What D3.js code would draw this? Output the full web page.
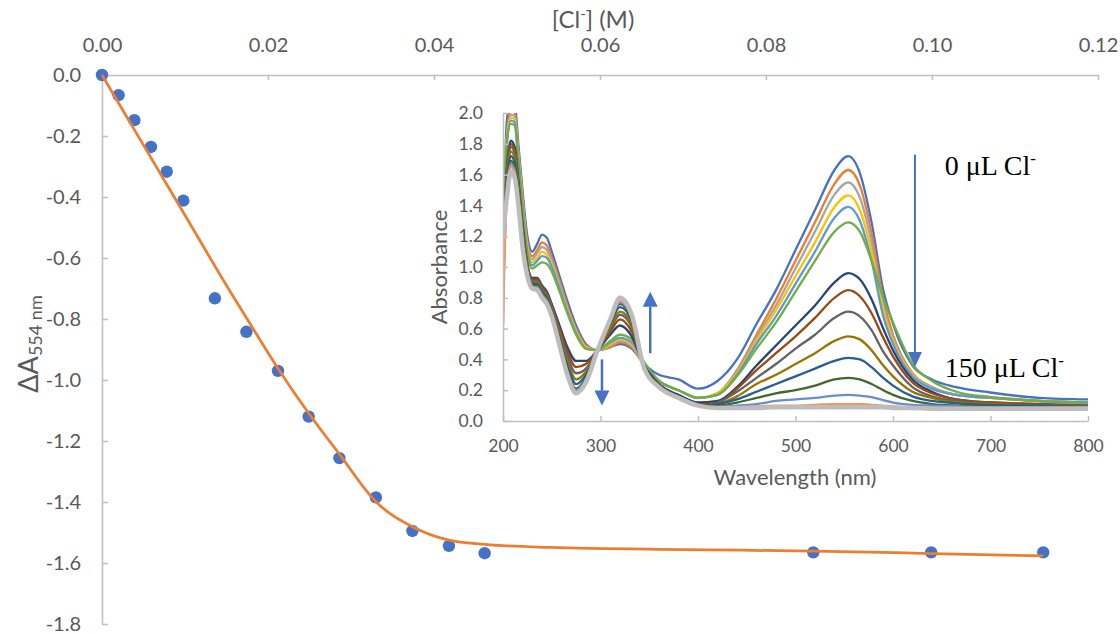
<!DOCTYPE html>
<html><head><meta charset="utf-8">
<script src="https://cdn.jsdelivr.net/npm/d3@7"></script>
<style>
body{margin:0;background:#fff}
svg{display:block}
</style>
</head><body>
<svg id="c" width="1120" height="634"></svg>
<script>
// ---------- main titration data ----------
const concTicks = [0, 0.02, 0.04, 0.06, 0.08, 0.10, 0.12];
const dATicks = [0, -0.2, -0.4, -0.6, -0.8, -1.0, -1.2, -1.4, -1.6, -1.8];
const conc = [0, 0.0020, 0.0039, 0.0059, 0.0078, 0.0098, 0.0136, 0.0174, 0.0212, 0.0249, 0.0286, 0.0330, 0.0374, 0.0418, 0.0461, 0.0857, 0.0999, 0.1134];
const dA554 = [0, -0.066, -0.148, -0.236, -0.317, -0.412, -0.732, -0.842, -0.970, -1.120, -1.256, -1.385, -1.495, -1.544, -1.568, -1.565, -1.565, -1.565];
const fitConc = [0, 0.005, 0.010, 0.015, 0.0178, 0.0212, 0.0249, 0.0286, 0.0330, 0.0374, 0.0418, 0.0461, 0.054, 0.070, 0.0857, 0.100, 0.1134];
const fitVal = [0, -0.23, -0.46, -0.69, -0.814, -0.962, -1.109, -1.243, -1.399, -1.481, -1.525, -1.539, -1.549, -1.556, -1.561, -1.569, -1.577];

// ---------- inset spectra ----------
const wlTicks = [200, 300, 400, 500, 600, 700, 800];
const absTicks = [0, 0.2, 0.4, 0.6, 0.8, 1.0, 1.2, 1.4, 1.6, 1.8, 2.0];
const wavelength = [200,204,208,212,216,220,225,230,235,240,245,250,258,266,275,285,297,310,320,332,345,360,380,400,420,440,460,480,500,520,540,554,566,578,590,600,620,640,665,700,750,800];
const spec01 = [1.20,1.95,2.08,2.06,1.78,1.50,1.20,1.10,1.15,1.21,1.19,1.10,0.94,0.78,0.62,0.50,0.46,0.48,0.50,0.47,0.37,0.30,0.27,0.21,0.26,0.40,0.63,0.85,1.11,1.37,1.63,1.72,1.61,1.29,0.85,0.63,0.36,0.27,0.22,0.185,0.15,0.14];
const spec02 = [0.62,1.85,2.02,2.00,1.74,1.46,1.16,1.07,1.11,1.16,1.14,1.06,0.91,0.75,0.60,0.49,0.46,0.48,0.51,0.48,0.36,0.26,0.20,0.15,0.18,0.33,0.56,0.79,1.04,1.29,1.54,1.63,1.53,1.22,0.79,0.56,0.31,0.22,0.17,0.155,0.13,0.12];
const spec03 = [1.00,1.80,1.99,1.98,1.72,1.44,1.14,1.05,1.09,1.13,1.11,1.04,0.89,0.73,0.59,0.48,0.46,0.49,0.52,0.49,0.36,0.26,0.20,0.15,0.18,0.32,0.54,0.75,0.99,1.23,1.47,1.55,1.45,1.16,0.75,0.54,0.30,0.22,0.17,0.15,0.13,0.12];
const spec04 = [1.45,1.85,1.97,1.96,1.70,1.42,1.12,1.03,1.06,1.10,1.08,1.02,0.87,0.72,0.58,0.48,0.46,0.50,0.53,0.50,0.37,0.26,0.20,0.15,0.18,0.31,0.52,0.72,0.94,1.16,1.39,1.465,1.37,1.10,0.72,0.52,0.30,0.21,0.17,0.15,0.13,0.12];
const spec05 = [1.30,1.80,1.95,1.94,1.68,1.40,1.10,1.01,1.04,1.07,1.06,1.00,0.86,0.71,0.57,0.47,0.46,0.51,0.54,0.51,0.37,0.26,0.20,0.15,0.17,0.30,0.50,0.68,0.89,1.10,1.32,1.39,1.30,1.04,0.68,0.50,0.29,0.21,0.17,0.15,0.13,0.12];
const spec06 = [1.40,1.82,1.93,1.92,1.66,1.38,1.08,0.99,1.01,1.03,1.02,0.97,0.84,0.70,0.56,0.47,0.46,0.52,0.56,0.53,0.38,0.26,0.20,0.15,0.17,0.29,0.47,0.64,0.84,1.04,1.23,1.29,1.23,1.04,0.80,0.64,0.37,0.26,0.19,0.155,0.13,0.12];
const spec07 = [1.10,1.65,1.82,1.78,1.55,1.28,1.02,0.93,0.93,0.88,0.84,0.76,0.62,0.48,0.39,0.39,0.46,0.56,0.62,0.55,0.36,0.24,0.17,0.12,0.13,0.22,0.36,0.49,0.62,0.75,0.90,0.96,0.92,0.79,0.60,0.46,0.27,0.19,0.14,0.12,0.11,0.10];
const spec08 = [1.05,1.62,1.80,1.76,1.53,1.26,1.01,0.92,0.92,0.87,0.83,0.75,0.60,0.45,0.35,0.37,0.46,0.58,0.66,0.58,0.35,0.23,0.16,0.11,0.12,0.21,0.33,0.44,0.55,0.67,0.80,0.85,0.81,0.70,0.54,0.42,0.25,0.18,0.14,0.12,0.11,0.10];
const spec09 = [1.00,1.60,1.78,1.74,1.51,1.24,1.00,0.91,0.91,0.86,0.82,0.74,0.58,0.42,0.31,0.34,0.46,0.60,0.69,0.61,0.34,0.22,0.15,0.10,0.12,0.19,0.28,0.37,0.47,0.56,0.67,0.71,0.68,0.59,0.45,0.36,0.22,0.16,0.13,0.11,0.10,0.10];
const spec10 = [0.95,1.58,1.75,1.71,1.49,1.22,0.99,0.90,0.90,0.85,0.81,0.73,0.56,0.39,0.27,0.32,0.46,0.61,0.71,0.63,0.34,0.22,0.15,0.10,0.11,0.16,0.24,0.30,0.37,0.44,0.52,0.55,0.53,0.46,0.36,0.29,0.19,0.15,0.12,0.11,0.10,0.09];
const spec11 = [0.90,1.55,1.72,1.68,1.47,1.20,0.98,0.89,0.89,0.84,0.80,0.72,0.54,0.36,0.24,0.30,0.46,0.63,0.74,0.65,0.34,0.22,0.15,0.10,0.11,0.14,0.19,0.24,0.29,0.34,0.39,0.41,0.40,0.35,0.28,0.23,0.16,0.13,0.115,0.105,0.10,0.09];
const spec12 = [0.85,1.52,1.69,1.65,1.45,1.18,0.97,0.88,0.88,0.83,0.79,0.71,0.52,0.33,0.21,0.28,0.46,0.64,0.76,0.66,0.34,0.22,0.15,0.10,0.10,0.12,0.15,0.18,0.20,0.23,0.27,0.28,0.27,0.24,0.20,0.17,0.13,0.11,0.10,0.095,0.09,0.09];
const spec13 = [0.80,1.50,1.67,1.63,1.43,1.16,0.96,0.87,0.87,0.82,0.78,0.70,0.51,0.32,0.20,0.27,0.46,0.65,0.77,0.67,0.34,0.22,0.15,0.10,0.09,0.10,0.11,0.13,0.14,0.15,0.165,0.17,0.165,0.155,0.135,0.12,0.105,0.10,0.095,0.09,0.09,0.09];
const spec14 = [0.62,1.48,1.65,1.61,1.41,1.15,0.95,0.87,0.86,0.81,0.77,0.69,0.50,0.31,0.19,0.26,0.46,0.65,0.78,0.68,0.34,0.22,0.15,0.10,0.085,0.09,0.095,0.10,0.10,0.105,0.11,0.11,0.11,0.105,0.10,0.095,0.09,0.085,0.085,0.085,0.085,0.085];
const spec15 = [1.20,1.45,1.62,1.58,1.39,1.13,0.94,0.86,0.85,0.80,0.76,0.68,0.49,0.30,0.18,0.25,0.46,0.66,0.80,0.69,0.34,0.22,0.15,0.10,0.085,0.085,0.085,0.09,0.09,0.09,0.09,0.09,0.09,0.09,0.09,0.085,0.085,0.08,0.08,0.08,0.08,0.08];
const spectra = [spec01,spec02,spec03,spec04,spec05,spec06,spec07,spec08,spec09,spec10,spec11,spec12,spec13,spec14,spec15];
const specColors = ["#4472C4","#ED7D31","#A5A5A5","#FFC000","#5B9BD5","#70AD47","#264478","#9E480E","#636363","#997300","#255E91","#43682B","#698ED0","#F1975A","#BDBDBD"];

// annotations (in inset data units)
const arrowWl = [301.5, 351, 622.5];
const arrowFrom = [0.40, 0.44, 1.73];
const arrowTo = [0.10, 0.84, 0.35];
const noteWl = [653, 653];
const noteAbs = [1.60, 0.285];
const noteText = ["0 \u03BCL Cl", "150 \u03BCL Cl"];

const svg = d3.select("#c");
const labelFont = "Lato, 'Open Sans', sans-serif";
const axisCol = "#BFBFBF", textCol = "#595959";

function styleAxis(g, fs){
  g.attr("font-family", labelFont).attr("font-size", fs);
  g.select(".domain").attr("stroke", axisCol).attr("stroke-width", 1.5);
  g.selectAll(".tick line").attr("stroke", axisCol).attr("stroke-width", 1.5);
  g.selectAll(".tick text").attr("fill", textCol);
}

// ---------- main chart ----------
const x = d3.scaleLinear().domain([0, 0.12]).range([102, 1098]);
const y = d3.scaleLinear().domain([0, -1.8]).range([75, 624]);

const gx = svg.append("g").attr("transform", "translate(0,75)")
  .call(d3.axisTop(x).tickValues(concTicks).tickFormat(d => d.toFixed(2)).tickSizeInner(-5).tickSizeOuter(0).tickPadding(23));
styleAxis(gx, 20);
const gy = svg.append("g").attr("transform", "translate(102,0)")
  .call(d3.axisLeft(y).tickValues(dATicks).tickFormat(d => d.toFixed(1)).tickSizeInner(-6).tickSizeOuter(0).tickPadding(21));
styleAxis(gy, 20);

// titles
const tt = svg.append("text").attr("x", 593).attr("y", 28).attr("text-anchor", "middle")
  .attr("font-family", labelFont).attr("font-size", 24).attr("fill", textCol);
tt.append("tspan").text("[Cl");
tt.append("tspan").attr("font-size", 15).attr("dy", -9).text("-");
tt.append("tspan").attr("dy", 9).text("] (M)");

const yt = svg.append("text").attr("transform", "translate(38,344) rotate(-90)").attr("text-anchor", "middle")
  .attr("font-family", labelFont).attr("font-size", 27).attr("fill", textCol);
yt.append("tspan").text("\u0394A");
yt.append("tspan").attr("font-size", 18).attr("dy", 4).text("554 nm");

// points then fit line
svg.append("g").selectAll("circle").data(d3.range(conc.length)).join("circle")
  .attr("cx", i => x(conc[i])).attr("cy", i => y(dA554[i])).attr("r", 6.2).attr("fill", "#4472C4");
svg.append("path").datum(d3.range(fitConc.length))
  .attr("fill", "none").attr("stroke", "#ED7D31").attr("stroke-width", 2.75)
  .attr("d", d3.line().x(i => x(fitConc[i])).y(i => y(fitVal[i])).curve(d3.curveMonotoneX));

// ---------- inset ----------
const wx = d3.scaleLinear().domain([200, 800]).range([503, 1088]);
const ay = d3.scaleLinear().domain([0, 2]).range([421, 113]);

svg.append("clipPath").attr("id", "clipI").append("rect")
  .attr("x", wx(200)).attr("y", ay(2)).attr("width", wx(800) - wx(200)).attr("height", ay(0) - ay(2));

const lineGen = d3.line().x((d, i) => wx(wavelength[i])).y(d => ay(d)).curve(d3.curveMonotoneX);
const gl = svg.append("g").attr("clip-path", "url(#clipI)");
spectra.forEach((s, k) => {
  gl.append("path").datum(s).attr("fill", "none").attr("stroke", specColors[k])
    .attr("stroke-width", k === spectra.length - 1 ? 4.5 : 2.3).attr("stroke-linejoin", "round")
    .attr("d", lineGen);
});

const ix = svg.append("g").attr("transform", `translate(0,${ay(0)})`)
  .call(d3.axisBottom(wx).tickValues(wlTicks).tickSizeInner(-5).tickSizeOuter(0).tickPadding(19));
styleAxis(ix, 17.5);
const iy = svg.append("g").attr("transform", `translate(${wx(200)},0)`)
  .call(d3.axisLeft(ay).tickValues(absTicks).tickFormat(d => d.toFixed(1)).tickSizeInner(-5).tickSizeOuter(0).tickPadding(20));
styleAxis(iy, 17.5);

svg.append("text").attr("x", 795).attr("y", 485).attr("text-anchor", "middle")
  .attr("font-family", labelFont).attr("font-size", 22).attr("fill", textCol).text("Wavelength (nm)");
svg.append("text").attr("transform", "translate(447,267) rotate(-90)").attr("text-anchor", "middle")
  .attr("font-family", labelFont).attr("font-size", 22).attr("fill", textCol).text("Absorbance");

// arrows
const arrowCol = "#4472C4";
arrowWl.forEach((w, i) => {
  const ax = wx(w), y0 = ay(arrowFrom[i]), y1 = ay(arrowTo[i]);
  const dir = y1 > y0 ? 1 : -1;
  const hl = 15, hw = i === 2 ? 7 : 7.5;
  svg.append("line").attr("x1", ax).attr("x2", ax).attr("y1", y0).attr("y2", y1 - dir * hl)
    .attr("stroke", arrowCol).attr("stroke-width", i === 2 ? 2 : 2.5);
  svg.append("path").attr("fill", arrowCol)
    .attr("d", `M${ax},${y1}L${ax - hw},${y1 - dir * hl}L${ax + hw},${y1 - dir * hl}Z`);
});

// notes
noteText.forEach((t, i) => {
  const tx = svg.append("text").attr("x", wx(noteWl[i])).attr("y", ay(noteAbs[i]))
    .attr("font-family", "'Liberation Serif', 'Times New Roman', serif").attr("font-size", 28).attr("fill", "#000");
  tx.append("tspan").text(t);
  tx.append("tspan").attr("font-size", 17).attr("dy", -11).text("-");
});
</script>
</body></html>
